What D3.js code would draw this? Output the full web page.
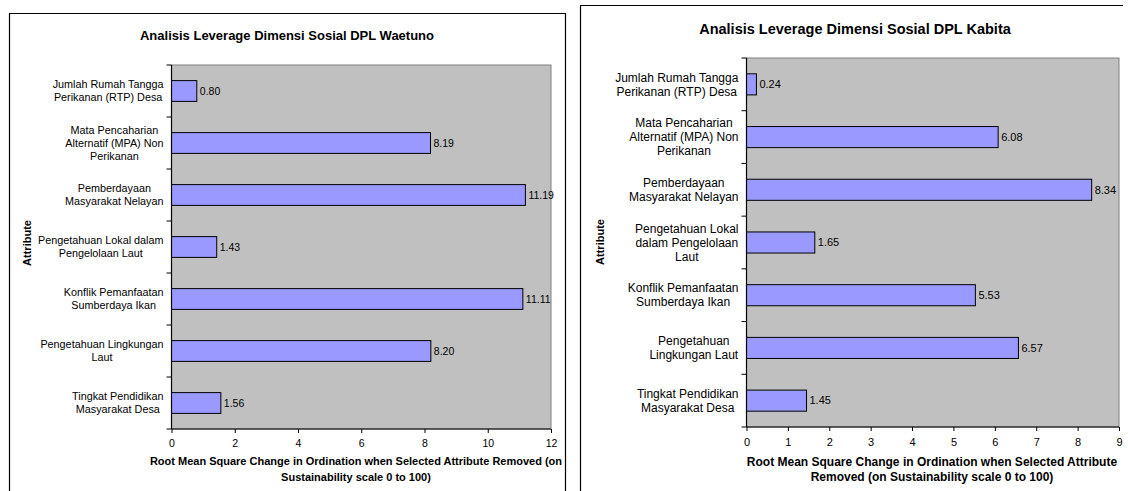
<!DOCTYPE html>
<html><head><meta charset="utf-8">
<script src="https://cdn.jsdelivr.net/npm/d3@7"></script>
<style>body{margin:0;background:#fff}svg{display:block}text{font-family:"Liberation Sans",Arial,sans-serif}</style>
</head><body>
<svg id="c" width="1128" height="491"></svg>
<script>
const titleA = "Analisis Leverage Dimensi Sosial DPL Waetuno";
const categoriesA = [
  ["Jumlah Rumah Tangga","Perikanan (RTP) Desa"],
  ["Mata Pencaharian","Alternatif (MPA) Non","Perikanan"],
  ["Pemberdayaan","Masyarakat Nelayan"],
  ["Pengetahuan Lokal dalam","Pengelolaan Laut"],
  ["Konflik Pemanfaatan","Sumberdaya Ikan"],
  ["Pengetahuan Lingkungan","Laut"],
  ["Tingkat Pendidikan","Masyarakat Desa"]
];
const valuesA = [0.80, 8.19, 11.19, 1.43, 11.11, 8.20, 1.56];
const ticksA = [0,2,4,6,8,10,12];
const xTitleA = ["Root Mean Square Change in Ordination when Selected Attribute Removed (on","Sustainability scale 0 to 100)"];

const titleB = "Analisis Leverage Dimensi Sosial DPL Kabita";
const categoriesB = [
  ["Jumlah Rumah Tangga","Perikanan (RTP) Desa"],
  ["Mata Pencaharian","Alternatif (MPA) Non","Perikanan"],
  ["Pemberdayaan","Masyarakat Nelayan"],
  ["Pengetahuan Lokal","dalam Pengelolaan","Laut"],
  ["Konflik Pemanfaatan","Sumberdaya Ikan"],
  ["Pengetahuan","Lingkungan Laut"],
  ["Tingkat Pendidikan","Masyarakat Desa"]
];
const valuesB = [0.24, 6.08, 8.34, 1.65, 5.53, 6.57, 1.45];
const ticksB = [0,1,2,3,4,5,6,7,8,9];
const xTitleB = ["Root Mean Square Change in Ordination when Selected Attribute","Removed (on Sustainability scale 0 to 100)"];
const yTitle = "Attribute";

const svg = d3.select("#c");

function drawChart(o){
  const g = svg.append("g");
  g.append("path").attr("d", o.frame).attr("fill","none").attr("stroke","#000").attr("stroke-width",1.2);
  const x = d3.scaleLinear().domain([0, o.ticks[o.ticks.length-1]]).range([o.L, o.R]);
  const idx = d3.range(o.cats.length);
  const y = d3.scaleBand().domain(idx).range([o.T, o.B]).paddingInner(0.6).paddingOuter(0.3);
  const yb = d3.scaleBand().domain(idx).range([o.T, o.B]);
  g.append("rect").attr("x",o.L).attr("y",o.T).attr("width",o.R-o.L).attr("height",o.B-o.T)
    .attr("fill","#c0c0c0").attr("stroke","#808080").attr("stroke-width",1);
  g.selectAll("rect.bar").data(o.vals).join("rect").attr("class","bar")
    .attr("x", x(0)).attr("y",(d,i)=>y(i)).attr("width",d=>x(d)-x(0)).attr("height",y.bandwidth())
    .attr("fill","#9999ff").attr("stroke","#000").attr("stroke-width",1);
  g.selectAll("text.val").data(o.vals).join("text").attr("class","val")
    .attr("x", d=>x(d)+3).attr("y",(d,i)=>y(i)+y.bandwidth()/2).attr("dy","0.35em")
    .attr("font-size",o.vfs).attr("fill","#000").text(d=>d.toFixed(2));
  const xa = g.append("g").attr("transform",`translate(0,${o.B})`)
    .call(d3.axisBottom(x).tickValues(o.ticks).tickSize(4).tickPadding(7).tickFormat(d3.format("d")));
  xa.select(".domain").attr("stroke","#000").attr("d",`M${o.L},0H${o.R}`);
  xa.selectAll("text").attr("font-size",o.vfs).attr("font-family","Liberation Sans, Arial");
  const bounds = idx.map(i=>yb(i)).concat([o.B]);
  g.append("line").attr("x1",o.L).attr("x2",o.L).attr("y1",o.T).attr("y2",o.B).attr("stroke","#000").attr("stroke-width",1.2);
  g.selectAll("line.yt").data(bounds).join("line").attr("class","yt")
    .attr("x1",o.L-5).attr("x2",o.L).attr("y1",d=>d).attr("y2",d=>d).attr("stroke","#000");
  const lh = o.lh;
  o.cats.forEach((lines,i)=>{
    const t = g.append("text").attr("font-size",o.lfs).attr("text-anchor","middle");
    const cy = yb(i)+yb.bandwidth()/2;
    const y0 = cy - (lines.length-1)*lh/2;
    lines.forEach((s,k)=>t.append("tspan").attr("x",0).attr("y",y0+k*lh).attr("dy","0.35em").text(s));
    const w = t.node().getBBox().width;
    t.attr("transform",`translate(${o.L-8-w/2},0)`);
  });
  g.append("text").attr("x",o.tx).attr("y",o.ty).attr("text-anchor","middle").attr("font-weight","bold")
    .attr("font-size",o.tfs).text(o.title);
  g.append("text").attr("transform",`translate(${o.ytx},${o.yty}) rotate(-90)`).attr("text-anchor","middle")
    .attr("font-weight","bold").attr("font-size",o.yfs).text(yTitle);
  const xt = g.append("text").attr("text-anchor","middle").attr("font-weight","bold").attr("font-size",o.xfs);
  o.xTitle.forEach((s,k)=>xt.append("tspan").attr("x",o.xtx).attr("y",o.xty+k*o.xlh).text(s));
}

drawChart({frame:"M9.5,491V13.5H565.5V491", L:171.5, R:551, T:65, B:429, cats:categoriesA, vals:valuesA, ticks:ticksA,
  title:titleA, tx:287, ty:40, tfs:13, vfs:10.5, lfs:10.8, lh:13, yfs:11, ytx:31, yty:243,
  xTitle:xTitleA, xfs:11, xtx:356, xty:465, xlh:16});
drawChart({frame:"M580.5,491V5.5H1123", L:746.5, R:1119, T:58, B:427, cats:categoriesB, vals:valuesB, ticks:ticksB,
  title:titleB, tx:855, ty:34, tfs:14.5, vfs:11, lfs:12, lh:14, yfs:11, ytx:604, yty:242,
  xTitle:xTitleB, xfs:12, xtx:932, xty:466, xlh:14.5});
</script>
</body></html>
